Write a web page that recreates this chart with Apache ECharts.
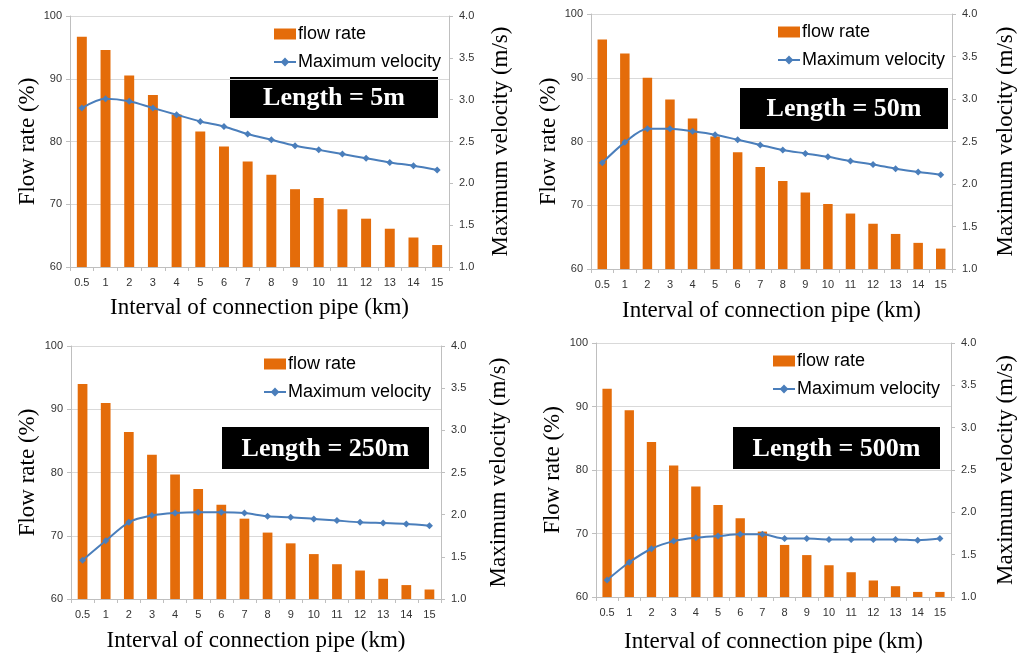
<!DOCTYPE html>
<html>
<head>
<meta charset="utf-8">
<script src="https://cdn.jsdelivr.net/npm/echarts@6/dist/echarts.min.js"></script>
<style>
  html, body { margin: 0; padding: 0; background: #ffffff; }
  #chart { width: 1018px; height: 658px; }
</style>
</head>
<body>
<div id="chart"></div>
<script>
// Interval of connection pipe (km)
const intervals = ['0.5', '1', '2', '3', '4', '5', '6', '7', '8', '9', '10', '11', '12', '13', '14', '15'];

// Flow rate (%) for each pipe length
const flowLen5   = [96.7, 94.6, 90.5, 87.4, 84.3, 81.6, 79.2, 76.8, 74.7, 72.4, 71.0, 69.2, 67.7, 66.1, 64.7, 63.5];
const flowLen50  = [96.0, 93.8, 90.0, 86.6, 83.6, 80.8, 78.3, 76.0, 73.8, 72.0, 70.2, 68.7, 67.1, 65.5, 64.1, 63.2];
const flowLen250 = [94.0, 91.0, 86.4, 82.8, 79.7, 77.4, 74.9, 72.7, 70.5, 68.8, 67.1, 65.5, 64.5, 63.2, 62.2, 61.5];
const flowLen500 = [92.8, 89.4, 84.4, 80.7, 77.4, 74.5, 72.4, 70.3, 68.2, 66.6, 65.0, 63.9, 62.6, 61.7, 60.8, 60.8];

// Maximum velocity (m/s) for each pipe length
const velLen5   = [2.90, 3.01, 2.98, 2.90, 2.82, 2.74, 2.68, 2.59, 2.52, 2.45, 2.40, 2.35, 2.30, 2.25, 2.21, 2.16];
const velLen50  = [2.25, 2.49, 2.65, 2.65, 2.62, 2.58, 2.52, 2.46, 2.40, 2.36, 2.32, 2.27, 2.23, 2.18, 2.14, 2.11];
const velLen250 = [1.46, 1.69, 1.91, 1.99, 2.02, 2.03, 2.03, 2.02, 1.98, 1.97, 1.95, 1.93, 1.91, 1.90, 1.89, 1.87];
const velLen500 = [1.20, 1.41, 1.57, 1.66, 1.70, 1.72, 1.74, 1.74, 1.69, 1.69, 1.68, 1.68, 1.68, 1.68, 1.67, 1.69];

const panelLabels = ['Length = 5m', 'Length = 50m', 'Length = 250m', 'Length = 500m'];
const flowTicks = [60, 70, 80, 90, 100];
const velTicks = [1.0, 1.5, 2.0, 2.5, 3.0, 3.5, 4.0];

const flowSets = [flowLen5, flowLen50, flowLen250, flowLen500];
const velSets = [velLen5, velLen50, velLen250, velLen500];

// Layout of each panel: plot area, legend, label box, axis-name gaps
const panels = [
  { grid: { left: 70,  top: 16,  width: 379, height: 251 }, legend: { left: 273, top: 25 },  box: { x: 230, y: 77,  w: 208, h: 41 }, gapL: 31, gapR: 40, gapX: 29 },
  { grid: { left: 591, top: 14,  width: 362, height: 255 }, legend: { left: 777, top: 23 },  box: { x: 740, y: 88,  w: 208, h: 41 }, gapL: 30, gapR: 42, gapX: 30 },
  { grid: { left: 71,  top: 346, width: 370, height: 253 }, legend: { left: 263, top: 355 }, box: { x: 222, y: 427, w: 207, h: 42 }, gapL: 32, gapR: 46, gapX: 30 },
  { grid: { left: 596, top: 343, width: 356, height: 254 }, legend: { left: 772, top: 352 }, box: { x: 733, y: 427, w: 207, h: 42 }, gapL: 32, gapR: 43, gapX: 33 }
];

const SANS = '"Liberation Sans", Arial, sans-serif';
const SERIF = '"Liberation Serif", "Times New Roman", serif';
const BAR_COLOR = '#E46C0A';
const LINE_COLOR = '#4A7EBB';
const AXIS_GRAY = '#BFBFBF';

const grids = [], xAxes = [], yAxes = [], series = [], legends = [], graphics = [];

panels.forEach((p, i) => {
  grids.push(Object.assign({ containLabel: false }, p.grid));

  xAxes.push({
    type: 'category',
    gridIndex: i,
    data: intervals,
    name: 'Interval of connection pipe (km)',
    nameLocation: 'middle',
    nameGap: p.gapX,
    nameTextStyle: { fontFamily: SERIF, fontSize: 23, color: '#000' },
    axisLine: { lineStyle: { color: AXIS_GRAY, width: 1 } },
    axisTick: { show: true, alignWithLabel: false, length: 4, lineStyle: { color: AXIS_GRAY } },
    axisLabel: { fontFamily: SANS, fontSize: 11, color: '#333', margin: 10, interval: 0 }
  });

  yAxes.push({
    type: 'value',
    gridIndex: i,
    position: 'left',
    min: flowTicks[0],
    max: flowTicks[flowTicks.length - 1],
    interval: flowTicks[1] - flowTicks[0],
    name: 'Flow rate (%)',
    nameLocation: 'middle',
    nameGap: p.gapL,
    nameTextStyle: { fontFamily: SERIF, fontSize: 23, color: '#000' },
    axisLine: { show: true, lineStyle: { color: AXIS_GRAY, width: 1 } },
    axisTick: { show: true, length: 4, lineStyle: { color: AXIS_GRAY } },
    axisLabel: { fontFamily: SANS, fontSize: 11, color: '#333', margin: 8 },
    splitLine: { show: true, lineStyle: { color: '#D9D9D9', width: 1 } }
  });

  yAxes.push({
    type: 'value',
    gridIndex: i,
    position: 'right',
    min: velTicks[0],
    max: velTicks[velTicks.length - 1],
    interval: velTicks[1] - velTicks[0],
    name: 'Maximum velocity (m/s)',
    nameLocation: 'middle',
    nameGap: p.gapR,
    nameRotate: 90,
    nameTextStyle: { fontFamily: SERIF, fontSize: 23, color: '#000' },
    axisLine: { show: true, lineStyle: { color: AXIS_GRAY, width: 1 } },
    axisTick: { show: true, length: 4, lineStyle: { color: AXIS_GRAY } },
    axisLabel: { fontFamily: SANS, fontSize: 11, color: '#333', margin: 10, formatter: v => v.toFixed(1) },
    splitLine: { show: false }
  });

  series.push({
    name: 'flow rate',
    type: 'bar',
    xAxisIndex: i,
    yAxisIndex: 2 * i,
    data: flowSets[i],
    barWidth: '42%',
    itemStyle: { color: BAR_COLOR },
    z: 2
  });

  series.push({
    name: 'Maximum velocity',
    type: 'line',
    xAxisIndex: i,
    yAxisIndex: 2 * i + 1,
    data: velSets[i],
    smooth: 0.3,
    symbol: 'diamond',
    symbolSize: 7,
    showSymbol: true,
    lineStyle: { color: LINE_COLOR, width: 2 },
    itemStyle: { color: LINE_COLOR },
    z: 3
  });

  legends.push({
    left: p.legend.left,
    top: p.legend.top,
    padding: 0,
    orient: 'vertical',
    itemWidth: 22,
    itemHeight: 11,
    itemGap: 10,
    selectedMode: false,
    textStyle: { fontFamily: SANS, fontSize: 18, color: '#000', padding: [0, 0, 0, -3] },
    data: [
      { name: 'flow rate', icon: 'rect' },
      { name: 'Maximum velocity' }
    ]
  });

  graphics.push({
    type: 'group',
    left: p.box.x,
    top: p.box.y,
    z: 10,
    children: [
      { type: 'rect', shape: { x: 0, y: 0, width: p.box.w, height: p.box.h }, style: { fill: '#000' } },
      {
        type: 'text',
        x: p.box.w / 2,
        y: p.box.h / 2 + 1,
        style: {
          text: panelLabels[i],
          fill: '#fff',
          font: 'bold 26px ' + SERIF,
          align: 'center',
          verticalAlign: 'middle'
        }
      }
    ]
  });
});

const chart = echarts.init(document.getElementById('chart'), null, { renderer: 'canvas' });
chart.setOption({
  backgroundColor: '#ffffff',
  animation: false,
  grid: grids,
  xAxis: xAxes,
  yAxis: yAxes,
  legend: legends,
  series: series,
  graphic: graphics
});
</script>
</body>
</html>
